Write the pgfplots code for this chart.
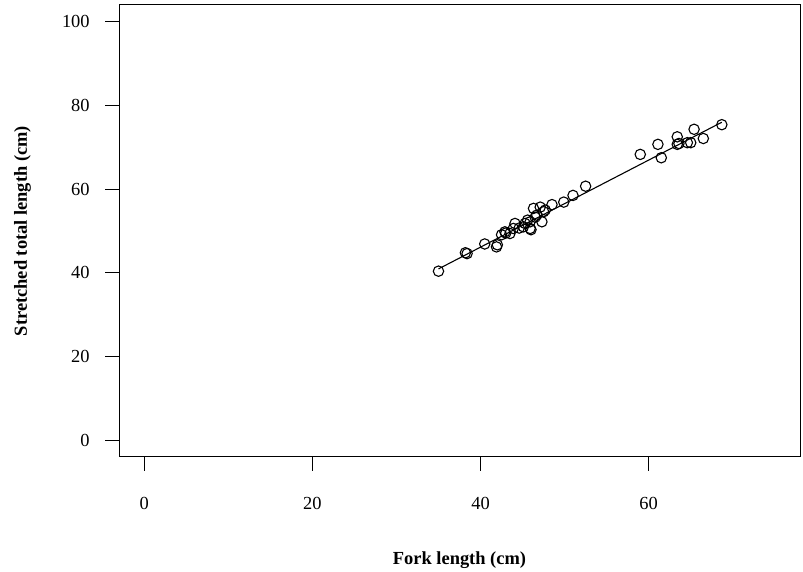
\documentclass[border=0pt]{standalone}
\usepackage{pgfplots}
\pgfplotsset{compat=1.18}
\usepackage{fontspec}
\setmainfont{Liberation Serif}
\begin{document}
\fontsize{18.5}{22}\selectfont
\begin{tikzpicture}[x=1bp,y=1bp]
\useasboundingbox (0,0) rectangle (803,572);
\begin{axis}[
  at={(119bp,115bp)}, anchor=south west,
  scale only axis, width=681bp, height=452bp,
  xmin=-3, xmax=78, ymin=-4, ymax=104,
  xtick={0,20,40,60}, ytick={0,20,40,60,80,100},
  xtick pos=bottom, ytick pos=left,
  tick align=outside, major tick length=14bp,
  axis line style={line width=1bp},
  every tick/.style={black, line width=1bp},
  /pgf/number format/assume math mode=true,
  tick label style={font=\fontsize{18.5}{22}\selectfont},
  xticklabel style={yshift=-20bp},
  yticklabel style={xshift=-9bp},
  clip=false,
]
\addplot[only marks, mark=o, mark size=5.2bp, mark options={line width=1.1bp, black}] coordinates {
(35.0,40.4) (38.2,44.8) (38.4,44.6) (40.5,46.9) (41.9,46.2) (42.0,46.7)
(42.5,49.1) (42.9,49.8) (43.0,49.5) (43.5,49.4) (43.9,50.6) (44.1,51.8)
(45.1,51.0) (45.3,51.8) (45.9,50.6) (45.9,52.2) (45.6,52.6) (46.3,55.4)
(46.7,53.8) (46.5,53.3) (47.1,55.7) (47.3,52.2) (47.5,54.6) (47.7,55.0)
(48.5,56.3) (46.0,50.3) (44.6,50.7) (49.9,56.9) (51.0,58.5) (52.5,60.7)
(59.0,68.3) (61.1,70.7) (61.5,67.5) (63.4,72.5) (63.4,70.7) (63.6,70.9)
(64.6,71.1) (65.0,71.1) (65.4,74.3) (66.5,72.1) (68.7,75.4)
};
\addplot[black, line width=1.1bp] coordinates {(35.0,40.94) (68.7,75.99)};
\end{axis}
\node[font=\bfseries\fontsize{18.5}{22}\selectfont] at (459.5,12) {Fork length (cm)};
\node[font=\bfseries\fontsize{18.5}{22}\selectfont, rotate=90] at (22.5,341) {Stretched total length (cm)};
\end{tikzpicture}
\end{document}
